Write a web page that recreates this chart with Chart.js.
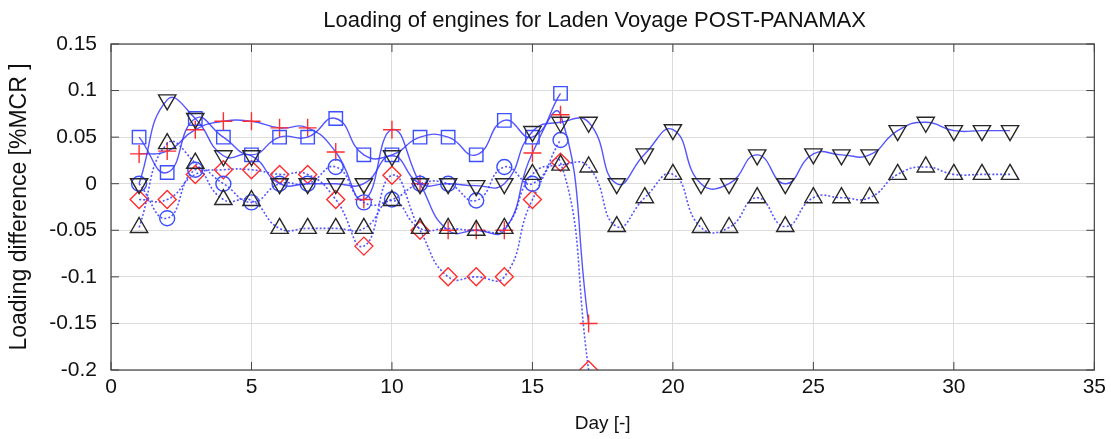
<!DOCTYPE html>
<html>
<head>
<meta charset="utf-8">
<script src="https://cdn.jsdelivr.net/npm/chart.js@4.4.1/dist/chart.umd.min.js"></script>
<style>
  html, body { margin: 0; padding: 0; background: #fff; }
  #wrap { width: 1111px; height: 439px; }
</style>
</head>
<body>
<div id="wrap"><canvas id="c" width="1111" height="439"></canvas></div>
<script>
const titleText = "Loading of engines for Laden Voyage POST-PANAMAX";
const xTitle = "Day [-]";
const yTitle = "Loading difference [%MCR ]";
const xTicks = [0, 5, 10, 15, 20, 25, 30, 35];
const yTicks = [-0.2, -0.15, -0.1, -0.05, 0, 0.05, 0.1, 0.15];

const days17 = [1,2,3,4,5,6,7,8,9,10,11,12,13,14,15,16,17];
const days16 = [1,2,3,4,5,6,7,8,9,10,11,12,13,14,15,16];
const days32 = [1,2,3,4,5,6,7,8,9,10,11,12,13,14,15,16,17,18,19,20,21,22,23,24,25,26,27,28,29,30,31,32];

const plusVals    = [0.032,0.035,0.058,0.067,0.067,0.060,0.060,0.034,-0.017,0.058,0.000,-0.050,-0.050,-0.050,0.033,0.074,-0.150];
const diamondVals = [-0.017,-0.017,0.010,0.015,0.015,0.010,0.010,-0.017,-0.067,0.009,-0.050,-0.100,-0.100,-0.100,-0.017,0.023,-0.200];
const squareVals  = [0.050,0.012,0.070,0.050,0.031,0.050,0.050,0.070,0.031,0.031,0.050,0.050,0.031,0.068,0.050,0.097];
const circleVals  = [0.000,-0.037,0.015,0.000,-0.020,0.000,0.000,0.018,-0.020,-0.017,0.000,0.000,-0.018,0.018,0.000,0.047];
const downTriVals = [0.000,0.090,0.070,0.030,0.030,0.000,0.000,0.000,0.000,0.030,0.000,0.000,-0.002,0.000,0.056,0.066,0.066,0.000,0.032,0.058,0.000,0.000,0.031,0.000,0.032,0.031,0.031,0.057,0.066,0.057,0.057,0.057];
const upTriVals   = [-0.047,0.043,0.022,-0.017,-0.018,-0.048,-0.048,-0.048,-0.048,-0.018,-0.048,-0.048,-0.050,-0.048,0.010,0.020,0.018,-0.046,-0.015,0.010,-0.047,-0.047,-0.015,-0.046,-0.015,-0.015,-0.015,0.010,0.018,0.010,0.010,0.010];

const lineBlue = "rgba(55,55,255,0.85)";
const red = "rgb(255,45,45)";
const markBlue = "rgb(60,80,255)";
const dark = "rgb(40,40,40)";

function pts(xs, ys) { return xs.map((x, i) => ({ x: x, y: ys[i] })); }

function ds(data, style, color, radius, dashed, rot) {
  return {
    data: data,
    borderColor: lineBlue,
    borderWidth: dashed ? 1.6 : 1.4,
    borderDash: dashed ? [2, 2] : [],
    tension: 0.5,
    fill: false,
    pointStyle: style,
    pointRadius: radius,
    pointHoverRadius: radius,
    pointBorderColor: color,
    pointBackgroundColor: "rgba(0,0,0,0)",
    pointBorderWidth: 1.4,
    pointRotation: rot || 0
  };
}

const datasets = [
  ds(pts(days32, upTriVals), "triangle", dark, 10, true, 0),
  ds(pts(days32, downTriVals), "triangle", dark, 10, false, 180),
  ds(pts(days16, circleVals), "circle", markBlue, 7.5, true, 0),
  ds(pts(days16, squareVals), "rect", markBlue, 9.5, false, 0),
  ds(pts(days17, diamondVals), "rectRot", red, 9, true, 0),
  ds(pts(days17, plusVals), "cross", red, 9, false, 0)
];

const FONT = "'Liberation Sans', Arial, sans-serif";

const frame = {
  id: "frame",
  afterDraw(chart) {
    const a = chart.chartArea, ctx = chart.ctx;
    ctx.save();
    ctx.strokeStyle = "#444";
    ctx.lineWidth = 1.2;
    ctx.strokeRect(a.left, a.top, a.right - a.left, a.bottom - a.top);
    const xs = chart.scales.x, ys = chart.scales.y;
    ctx.lineWidth = 1;
    xTicks.forEach(v => {
      const px = xs.getPixelForValue(v);
      ctx.beginPath(); ctx.moveTo(px, a.top); ctx.lineTo(px, a.top + 8); ctx.stroke();
      ctx.beginPath(); ctx.moveTo(px, a.bottom); ctx.lineTo(px, a.bottom - 8); ctx.stroke();
    });
    yTicks.forEach(v => {
      const py = ys.getPixelForValue(v);
      ctx.beginPath(); ctx.moveTo(a.left, py); ctx.lineTo(a.left + 8, py); ctx.stroke();
      ctx.beginPath(); ctx.moveTo(a.right, py); ctx.lineTo(a.right - 8, py); ctx.stroke();
    });
    ctx.fillStyle = "#111";
    ctx.font = "22px " + FONT;
    ctx.textAlign = "center";
    ctx.textBaseline = "middle";
    ctx.fillText(titleText, (a.left + a.right) / 2 - 8, 21);
    ctx.restore();
  }
};

new Chart(document.getElementById("c"), {
  type: "line",
  data: { datasets: datasets },
  plugins: [frame],
  options: {
    responsive: false,
    animation: false,
    layout: { padding: { top: 44, right: 15, left: 0, bottom: 0 } },
    plugins: { legend: { display: false }, tooltip: { enabled: false }, title: { display: false } },
    scales: {
      x: {
        type: "linear",
        min: 0, max: 35,
        afterBuildTicks(s) { s.ticks = xTicks.map(v => ({ value: v })); },
        afterFit(s) { s.height = 69; },
        grid: { color: "#dcdcdc", lineWidth: 1, drawTicks: false },
        border: { display: false },
        ticks: { color: "#111", font: { size: 21, family: FONT }, padding: 5, maxRotation: 0 },
        title: { display: true, text: xTitle, color: "#111", font: { size: 19, family: FONT }, padding: { top: 2 } }
      },
      y: {
        type: "linear",
        min: -0.2, max: 0.15,
        afterBuildTicks(s) { s.ticks = yTicks.map(v => ({ value: v })); },
        afterFit(s) { s.width = 111; },
        grid: { color: "#dcdcdc", lineWidth: 1, drawTicks: false },
        border: { display: false },
        ticks: { color: "#111", font: { size: 21, family: FONT }, padding: 14,
          callback: v => String(Math.round(v * 100) / 100) },
        title: { display: true, text: yTitle, color: "#111", font: { size: 23, family: FONT }, padding: { top: 6, bottom: 0 } }
      }
    }
  }
});
</script>
</body>
</html>
